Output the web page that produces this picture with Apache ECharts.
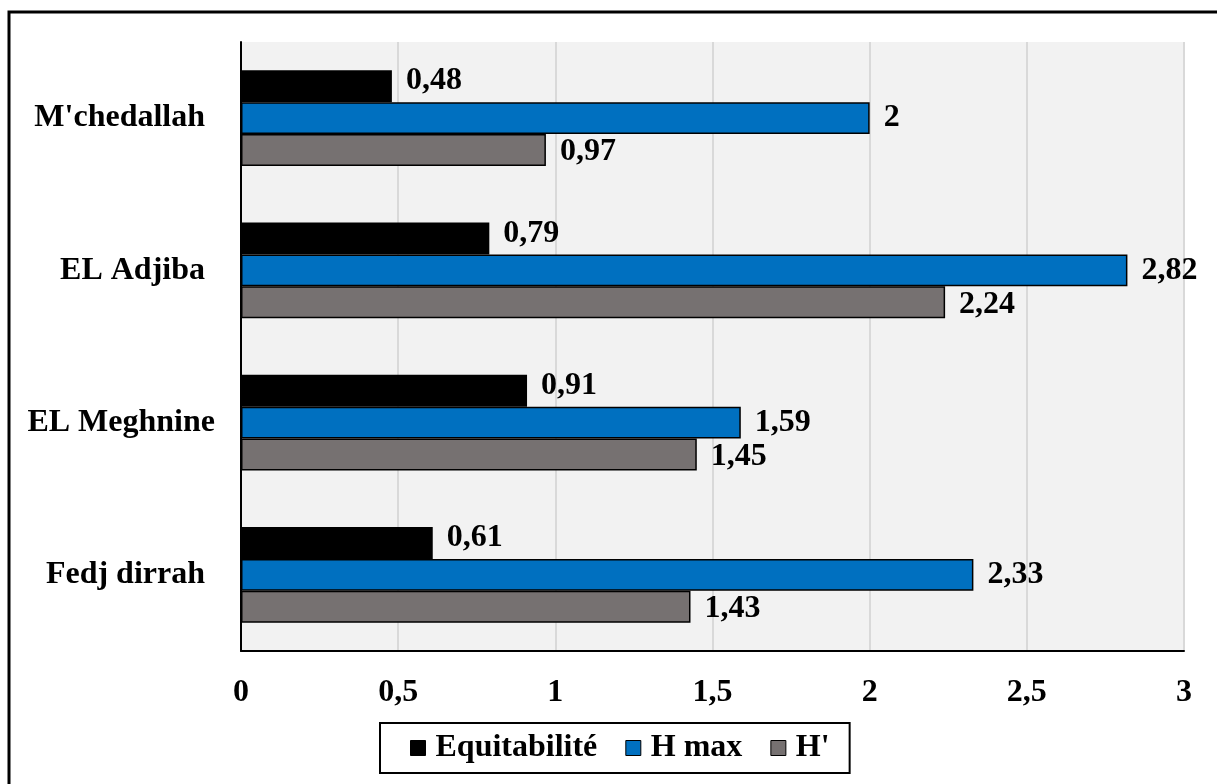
<!DOCTYPE html>
<html>
<head>
<meta charset="utf-8">
<script src="https://cdn.jsdelivr.net/npm/echarts@6/dist/echarts.min.js"></script>
<style>
  html, body { margin: 0; padding: 0; background: #ffffff; }
  #chart { width: 1217px; height: 784px; }
</style>
</head>
<body>
<div id="chart"></div>
<script>
// Diversity indices per station
const stations = ["M'chedallah", "EL Adjiba", "EL Meghnine", "Fedj dirrah"];
const equitabilite = [0.48, 0.79, 0.91, 0.61];
const hMax = [2, 2.82, 1.59, 2.33];
const hPrime = [0.97, 2.24, 1.45, 1.43];
const seriesNames = ['Equitabilité', 'H max', "H'"];
const xTicks = { min: 0, max: 3, step: 0.5 };

const FONT = '"Liberation Serif", "Times New Roman", serif';
const FS = 32;
const comma = v => String(v).replace('.', ',');

function barSeries(name, data, color, labelOffset) {
  return {
    name: name,
    type: 'bar',
    data: data,
    barGap: '0%',
    barCategoryGap: '37%',
    itemStyle: { color: color, borderColor: '#000000', borderWidth: 1.5 },
    label: {
      show: true,
      position: 'right',
      distance: 14,
      offset: labelOffset,
      color: '#000000',
      fontFamily: FONT,
      fontWeight: 'bold',
      fontSize: FS,
      formatter: p => comma(p.value)
    }
  };
}

const labelText = { fontFamily: FONT, fontWeight: 'bold', fontSize: FS, color: '#000000' };

const chart = echarts.init(document.getElementById('chart'), null, { renderer: 'canvas' });
chart.setOption({
  animation: false,
  backgroundColor: '#ffffff',
  graphic: [{
    type: 'rect',
    shape: { x: 9, y: 12, width: 1400, height: 1000 },
    style: { fill: 'none', stroke: '#000000', lineWidth: 3 },
    silent: true
  }],
  grid: {
    left: 241, right: 33, top: 42, bottom: 133,
    show: true, backgroundColor: '#f2f2f2', borderWidth: 0
  },
  legend: {
    left: 380,
    top: 723,
    padding: [9, 20, 9, 30],
    borderColor: '#000000',
    borderWidth: 2,
    backgroundColor: '#ffffff',
    icon: 'rect',
    itemWidth: 15,
    itemHeight: 15,
    itemGap: 28,
    itemStyle: { borderColor: '#000000', borderWidth: 1 },
    textStyle: Object.assign({ padding: [0, 0, 0, 5] }, labelText),
    data: seriesNames
  },
  xAxis: {
    type: 'value',
    min: xTicks.min,
    max: xTicks.max,
    interval: xTicks.step,
    axisLine: { show: true, lineStyle: { color: '#000000', width: 2 } },
    axisTick: { show: false },
    splitLine: { show: true, lineStyle: { color: '#d9d9d9', width: 2 } },
    axisLabel: Object.assign({ margin: 26, formatter: v => comma(v) }, labelText)
  },
  yAxis: {
    type: 'category',
    inverse: true,
    data: stations,
    axisLine: { show: true, lineStyle: { color: '#000000', width: 2 } },
    axisTick: { show: false },
    splitLine: { show: false },
    axisLabel: {
      margin: 26,
      formatter: v => (v === 'EL Meghnine' ? '{w|' + v + '}' : '{n|' + v + '}'),
      rich: {
        w: Object.assign({}, labelText),
        n: Object.assign({ padding: [0, 10, 0, 0] }, labelText)
      }
    }
  },
  series: [
    barSeries(seriesNames[0], equitabilite, '#000000', [0, -5]),
    barSeries(seriesNames[1], hMax, '#0070c0', [0, 0]),
    barSeries(seriesNames[2], hPrime, '#767171', [0, 2])
  ]
});
</script>
</body>
</html>
